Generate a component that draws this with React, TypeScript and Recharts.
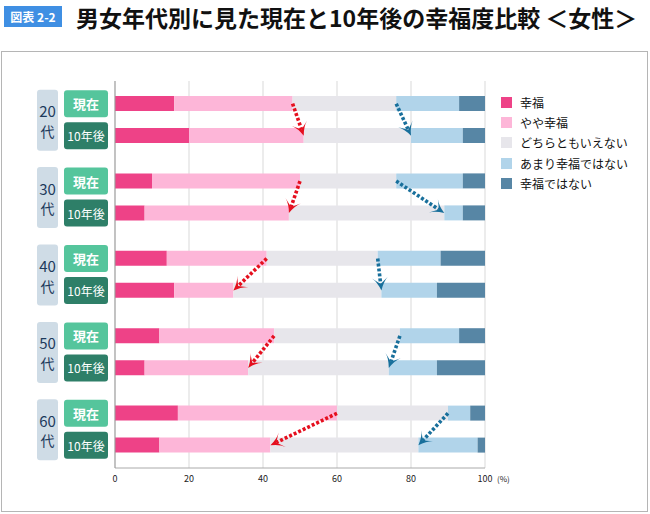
import React from "react";
import {
  BarChart, Bar, XAxis, YAxis, CartesianGrid, ReferenceLine,
} from "recharts";

const ages = ["20代", "30代", "40代", "50代", "60代"];
const rowLabels = ["現在", "10年後"];
const categories = ["幸福", "やや幸福", "どちらともいえない", "あまり幸福ではない", "幸福ではない"];
const colors = ["#ee4287", "#fdb6d8", "#e7e6eb", "#b1d4ea", "#5786a5"];
const xTicks = [0, 20, 40, 60, 80, 100];

// 現在
const happyNow = [16, 10, 14, 12, 17];
const fairlyHappyNow = [32, 40, 27, 31, 43];
const neutralNow = [28, 26, 30, 34, 30];
const notVeryHappyNow = [17, 18, 17, 16, 6];
const unhappyNow = [7, 6, 12, 7, 4];

// 10年後
const happyLater = [20, 8, 16, 8, 12];
const fairlyHappyLater = [31, 39, 16, 28, 30];
const neutralLater = [29, 42, 40, 38, 40];
const notVeryHappyLater = [14, 5, 15, 13, 16];
const unhappyLater = [6, 6, 13, 13, 2];

const nowSeries = [happyNow, fairlyHappyNow, neutralNow, notVeryHappyNow, unhappyNow];
const laterSeries = [happyLater, fairlyHappyLater, neutralLater, notVeryHappyLater, unhappyLater];

const data = ages.map((age, i) => {
  const row: Record<string, any> = { age };
  nowSeries.forEach((s, k) => (row[`now${k}`] = s[i]));
  laterSeries.forEach((s, k) => (row[`later${k}`] = s[i]));
  return row;
});

// arrows follow the boundary after やや幸福 (red) and after どちらともいえない (blue)
const sumTo = (series: number[][], n: number, i: number) =>
  series.slice(0, n).reduce((acc, s) => acc + s[i], 0);

const BAR_SIZE = 15;
const BAR_GAP = 17;
const ROW_HALF = (BAR_SIZE + BAR_GAP) / 2;
const FONT = '"Noto Sans CJK JP", "Noto Sans", sans-serif';

function Arrow(props: any) {
  const { x1, y1, x2, y2, color } = props;
  const sx = x1, sy = y1 - ROW_HALF;
  const tx = x2, ty = y2 + ROW_HALF;
  const len = Math.hypot(tx - sx, ty - sy) || 1;
  const dx = (tx - sx) / len, dy = (ty - sy) / len;
  const nx = -dy, ny = dx;
  const L = 13, W = 8;
  const bx = tx - dx * L, by = ty - dy * L;
  const mx = tx - dx * (L * 0.5), my = ty - dy * (L * 0.5);
  const head = `M${tx},${ty} Q${bx + nx * W * 0.4 + dx * 4},${by + ny * W * 0.4 + dy * 4} ${bx + nx * W},${by + ny * W} L${mx},${my} L${bx - nx * W},${by - ny * W} Q${bx - nx * W * 0.4 + dx * 4},${by - ny * W * 0.4 + dy * 4} ${tx},${ty} Z`;
  return (
    <g>
      <line x1={sx} y1={sy} x2={mx} y2={my} stroke={color} strokeWidth={3.6} strokeDasharray="3 2" />
      <path d={head} fill={color} />
    </g>
  );
}

function AgeTick({ y, payload }: any) {
  const age: string = payload.value;
  return (
    <g fontFamily={FONT}>
      <rect x={37} y={y - 30} width={21} height={61} rx={3} fill="#cfdce6" />
      <text x={47.5} y={y - 9} textAnchor="middle" dominantBaseline="central" fontSize={15} fill="#1d3a5c">
        {age.replace("代", "")}
      </text>
      <text x={47.5} y={y + 11} textAnchor="middle" dominantBaseline="central" fontSize={14} fill="#1d3a5c">
        代
      </text>
      <rect x={64} y={y - ROW_HALF - 13.5} width={44} height={27} rx={3} fill="#55c59c" />
      <text x={86} y={y - ROW_HALF} textAnchor="middle" dominantBaseline="central" fontSize={13} fontWeight={700} fill="#fff">
        {rowLabels[0]}
      </text>
      <rect x={64} y={y + ROW_HALF - 13.5} width={44} height={27} rx={3} fill="#2e7f68" />
      <text x={86} y={y + ROW_HALF} textAnchor="middle" dominantBaseline="central" fontSize={12} fill="#fff">
        {rowLabels[1]}
      </text>
    </g>
  );
}

function PercentTick({ x, y, payload }: any) {
  return (
    <g fontFamily={FONT} fontSize={9} fill="#222">
      <text x={x} y={y} dy="0.71em" textAnchor="middle">{payload.value}</text>
      {payload.value === 100 && (
        <text x={x + 12} y={y} dy="0.71em" textAnchor="start" fontSize={8}>(%)</text>
      )}
    </g>
  );
}

export default function App() {
  return (
    <div style={{ position: "absolute", left: 0, top: 0, width: 650, height: 514, fontFamily: FONT, background: "#fff" }}>
      <div style={{
        position: "absolute", left: 4, top: 6, width: 58, height: 21, background: "#3f8fe3",
        color: "#fff", fontSize: 12, fontWeight: 700, lineHeight: "21px", textAlign: "center",
      }}>図表 2-2</div>
      <div style={{
        position: "absolute", left: 76, top: 2, fontSize: 23, fontWeight: 700, color: "#111",
        lineHeight: "30px", whiteSpace: "nowrap",
      }}>男女年代別に見た現在と10年後の幸福度比較 ＜女性＞</div>
      <div style={{ position: "absolute", left: 1, top: 51, width: 645, height: 459, border: "1px solid #b5b5b5" }} />

      <div style={{ position: "absolute", left: 0, top: 0 }}>
        <BarChart
          width={650}
          height={514}
          data={data}
          layout="vertical"
          margin={{ top: 81, right: 165, bottom: 16, left: 35 }}
          barSize={BAR_SIZE}
          barGap={BAR_GAP}
        >
          <CartesianGrid horizontal={false} stroke="#d9d9d9" />
          <XAxis
            type="number"
            domain={[0, 100]}
            ticks={xTicks}
            tickLine={false}
            axisLine={{ stroke: "#aaa" }}
            tick={<PercentTick />}
            height={30}
          />
          <YAxis
            type="category"
            dataKey="age"
            width={80}
            tickLine={false}
            axisLine={{ stroke: "#999" }}
            tick={<AgeTick />}
          />
          {categories.map((c, k) => (
            <Bar key={`now${k}`} dataKey={`now${k}`} name={c} stackId="now" fill={colors[k]} isAnimationActive={false} />
          ))}
          {categories.map((c, k) => (
            <Bar key={`later${k}`} dataKey={`later${k}`} name={c} stackId="later" fill={colors[k]} isAnimationActive={false} />
          ))}
          {ages.map((age, i) => (
            <ReferenceLine
              key={`r${age}`}
              segment={[{ x: sumTo(nowSeries, 2, i), y: age }, { x: sumTo(laterSeries, 2, i), y: age }]}
              shape={(p: any) => <Arrow {...p} color="#e50f1e" />}
              ifOverflow="visible"
            />
          ))}
          {ages.map((age, i) => (
            <ReferenceLine
              key={`b${age}`}
              segment={[{ x: sumTo(nowSeries, 3, i), y: age }, { x: sumTo(laterSeries, 3, i), y: age }]}
              shape={(p: any) => <Arrow {...p} color="#186f9b" />}
              ifOverflow="visible"
            />
          ))}
        </BarChart>
      </div>

      <div style={{ position: "absolute", left: 501, top: 92 }}>
        {categories.map((c, k) => (
          <div key={c} style={{ display: "flex", alignItems: "center", height: 20.3, fontSize: 12, color: "#111" }}>
            <span style={{ width: 11, height: 11, background: colors[k], marginRight: 8, display: "inline-block" }} />
            {c}
          </div>
        ))}
      </div>
    </div>
  );
}
